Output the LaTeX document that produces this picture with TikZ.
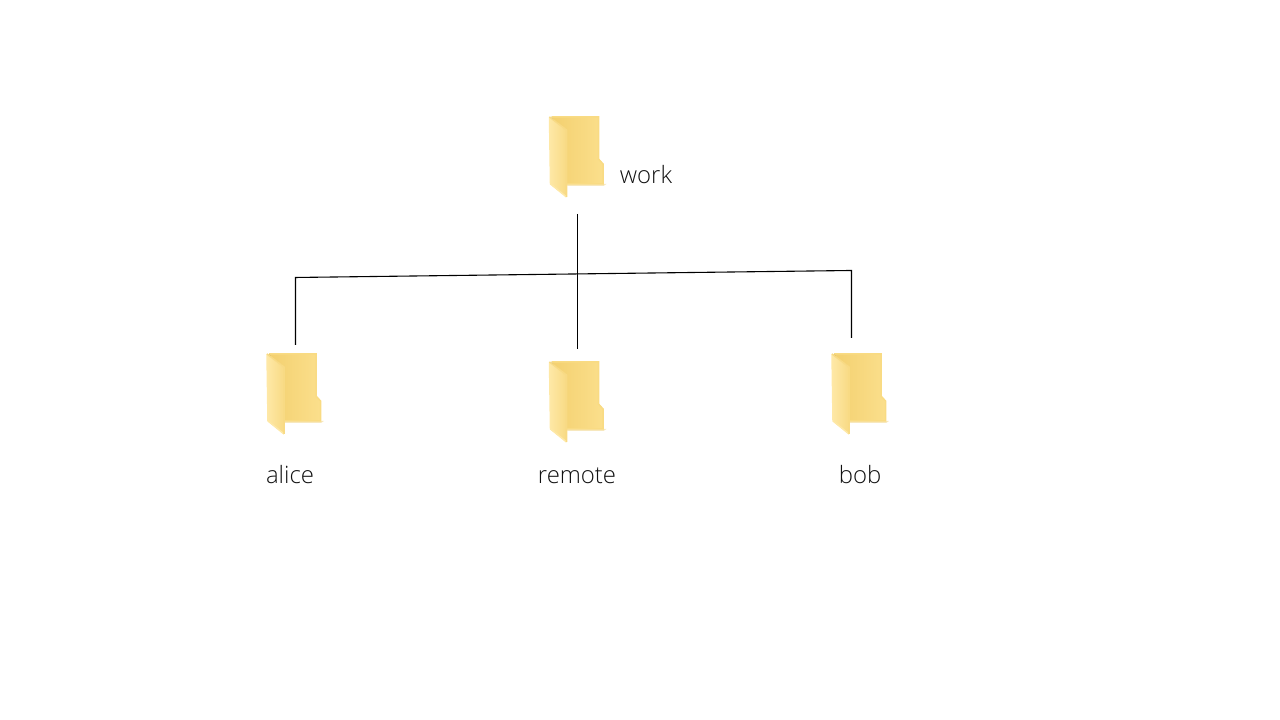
\documentclass[tikz,border=0pt]{standalone}
\usepackage{fontspec}
\setmainfont{Open Sans Light}
\definecolor{folderback}{HTML}{F3D06F}
\definecolor{folderbackr}{HTML}{FBDF8C}
\definecolor{folderflap}{HTML}{FEE8A6}
\definecolor{folderflapr}{HTML}{F8DA84}
\definecolor{folderedge}{HTML}{F7E8BE}
\definecolor{labeltext}{HTML}{111111}
\tikzset{
	folderlabel/.style={text=labeltext,font=\fontsize{6.8pt}{8pt}\selectfont,inner sep=0pt,anchor=base},
	treeline/.style={black,line width=0.11mm},
	foldericon/.pic={
		%%shadow at the foot
		\fill[folderedge] (0.17,-0.67)--(0.57,-0.67)--(0.54,-0.69)--(0.18,-0.69)--cycle;
		%%back
		\fill[left color=folderback,right color=folderbackr] (0.02,0)--(0.49,0)--(0.49,-0.42)--(0.535,-0.47)--(0.535,-0.67)--(0.17,-0.67)--(0.17,-0.20)--cycle;
		\draw[folderbackr!70!folderback,line width=0.15mm] (0.02,0)--(0.49,0)--(0.49,-0.42)--(0.535,-0.47)--(0.535,-0.67)--(0.17,-0.67);
		%%flap
		\fill[left color=folderflap,right color=folderflapr] (0,0)--(0.17,-0.13)--(0.17,-0.80)--(0.01,-0.67)--cycle;
		\draw[folderflap,line width=0.15mm] (0,0)--(0.01,-0.67)--(0.17,-0.80);
		\draw[folderflapr,line width=0.15mm] (0,0)--(0.17,-0.13)--(0.17,-0.80);
	}
}
\begin{document}
\begin{tikzpicture}
	\useasboundingbox (0,0) rectangle (12.8,7.2);
	%%Folders
	\pic (work) at (5.495,6.03) {foldericon};
	\pic (alice) at (2.67,3.66) {foldericon};
	\pic (remote) at (5.495,3.58) {foldericon};
	\pic (bob) at (8.32,3.66) {foldericon};
	%%Label
	\node[folderlabel] (worklabel) at (6.46,5.36) {work};
	\node[folderlabel] (alicelabel) at (2.90,2.36) {alice};
	\node[folderlabel] (remotelabel) at (5.77,2.36) {remote};
	\node[folderlabel] (boblabel) at (8.60,2.36) {bob};
	%%Tree
	\coordinate (worktail) at (5.775,5.06);
	\coordinate (remotetail) at (5.775,3.71);
	\coordinate (alicetail) at (2.955,3.75);
	\coordinate (alicecorner) at (2.955,4.425);
	\coordinate (bobcorner) at (8.515,4.495);
	\coordinate (bobtail) at (8.515,3.82);
	\draw[treeline] (worktail)--(remotetail);
	\draw[treeline] (alicetail)--(alicecorner)--(bobcorner)--(bobtail);
\end{tikzpicture}
\end{document}
